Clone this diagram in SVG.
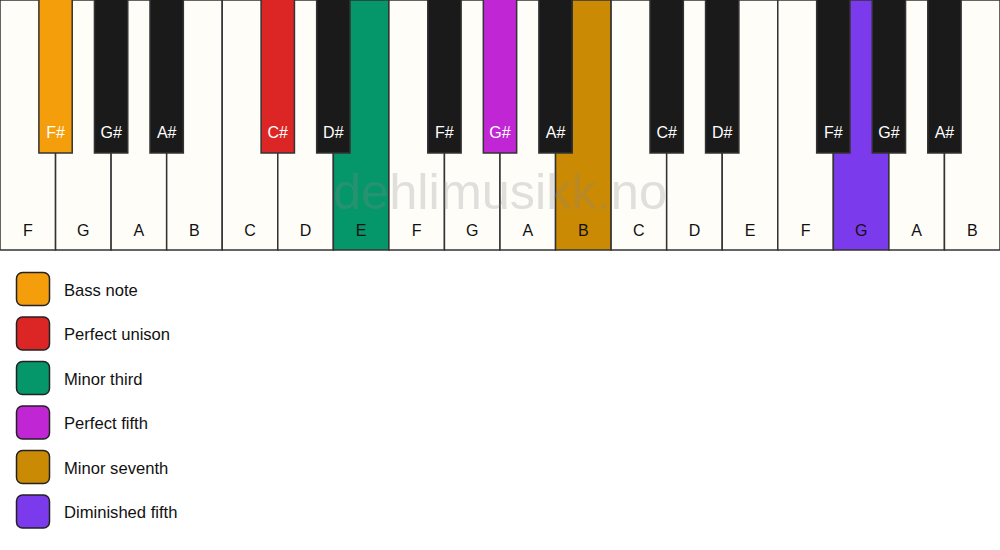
<svg xmlns="http://www.w3.org/2000/svg" width="1000" height="550" viewBox="0 0 1000 550">
<style>
.w{fill:#FFFDF8;stroke:#333;stroke-width:1.5}
.b{fill:#1A1A1A;stroke:#333;stroke-width:1.5}
.wt{font-family:"Liberation Sans",Arial,sans-serif;font-size:16px;fill:#111;text-anchor:middle}
.bt{font-family:"Liberation Sans",Arial,sans-serif;font-size:16px;fill:#fff;text-anchor:middle}
.lg{stroke:#222;stroke-width:1.5}
.lt{font-family:"Liberation Sans",Arial,sans-serif;font-size:16.6px;fill:#111}
</style>
<rect width="1000" height="550" fill="#fff"/>
<g id="white-keys">
<rect class="w" x="0" y="0" width="55.56" height="250"/><text class="wt" x="27.78" y="236">F</text>
<rect class="w" x="55.56" y="0" width="55.56" height="250"/><text class="wt" x="83.33" y="236">G</text>
<rect class="w" x="111.11" y="0" width="55.56" height="250"/><text class="wt" x="138.89" y="236">A</text>
<rect class="w" x="166.67" y="0" width="55.56" height="250"/><text class="wt" x="194.44" y="236">B</text>
<rect class="w" x="222.22" y="0" width="55.56" height="250"/><text class="wt" x="250" y="236">C</text>
<rect class="w" x="277.78" y="0" width="55.56" height="250"/><text class="wt" x="305.56" y="236">D</text>
<rect class="w" x="333.33" y="0" width="55.56" height="250" style="fill:#059669"/><text class="wt" x="361.11" y="236">E</text>
<rect class="w" x="388.89" y="0" width="55.56" height="250"/><text class="wt" x="416.67" y="236">F</text>
<rect class="w" x="444.44" y="0" width="55.56" height="250"/><text class="wt" x="472.22" y="236">G</text>
<rect class="w" x="500" y="0" width="55.56" height="250"/><text class="wt" x="527.78" y="236">A</text>
<rect class="w" x="555.56" y="0" width="55.56" height="250" style="fill:#CA8A04"/><text class="wt" x="583.33" y="236">B</text>
<rect class="w" x="611.11" y="0" width="55.56" height="250"/><text class="wt" x="638.89" y="236">C</text>
<rect class="w" x="666.67" y="0" width="55.56" height="250"/><text class="wt" x="694.44" y="236">D</text>
<rect class="w" x="722.22" y="0" width="55.56" height="250"/><text class="wt" x="750" y="236">E</text>
<rect class="w" x="777.78" y="0" width="55.56" height="250"/><text class="wt" x="805.56" y="236">F</text>
<rect class="w" x="833.33" y="0" width="55.56" height="250" style="fill:#7C3AED"/><text class="wt" x="861.11" y="236">G</text>
<rect class="w" x="888.89" y="0" width="55.56" height="250"/><text class="wt" x="916.67" y="236">A</text>
<rect class="w" x="944.44" y="0" width="55.56" height="250"/><text class="wt" x="972.22" y="236">B</text>
</g>
<g id="black-keys">
<rect class="b" x="38.89" y="-2" width="33.33" height="155" style="fill:#F59E0B"/><text class="bt" x="55.56" y="138">F#</text>
<rect class="b" x="94.44" y="-2" width="33.33" height="155"/><text class="bt" x="111.11" y="138">G#</text>
<rect class="b" x="150" y="-2" width="33.33" height="155"/><text class="bt" x="166.67" y="138">A#</text>
<rect class="b" x="261.11" y="-2" width="33.33" height="155" style="fill:#DC2626"/><text class="bt" x="277.78" y="138">C#</text>
<rect class="b" x="316.67" y="-2" width="33.33" height="155"/><text class="bt" x="333.33" y="138">D#</text>
<rect class="b" x="427.78" y="-2" width="33.33" height="155"/><text class="bt" x="444.44" y="138">F#</text>
<rect class="b" x="483.33" y="-2" width="33.33" height="155" style="fill:#C026D3"/><text class="bt" x="500" y="138">G#</text>
<rect class="b" x="538.89" y="-2" width="33.33" height="155"/><text class="bt" x="555.56" y="138">A#</text>
<rect class="b" x="650" y="-2" width="33.33" height="155"/><text class="bt" x="666.67" y="138">C#</text>
<rect class="b" x="705.56" y="-2" width="33.33" height="155"/><text class="bt" x="722.22" y="138">D#</text>
<rect class="b" x="816.67" y="-2" width="33.33" height="155"/><text class="bt" x="833.33" y="138">F#</text>
<rect class="b" x="872.22" y="-2" width="33.33" height="155"/><text class="bt" x="888.89" y="138">G#</text>
<rect class="b" x="927.78" y="-2" width="33.33" height="155"/><text class="bt" x="944.44" y="138">A#</text>
</g>
<text x="500" y="209" font-family="'Liberation Sans',Arial,sans-serif" font-size="50.5" fill="#888" fill-opacity="0.25" text-anchor="middle">dehlimusikk.no</text>
<g id="legend">
<rect class="lg" x="16.5" y="272.5" width="33" height="33" rx="6" fill="#F59E0B"/><text class="lt" x="64" y="295.5">Bass note</text>
<rect class="lg" x="16.5" y="317" width="33" height="33" rx="6" fill="#DC2626"/><text class="lt" x="64" y="340">Perfect unison</text>
<rect class="lg" x="16.5" y="361.5" width="33" height="33" rx="6" fill="#059669"/><text class="lt" x="64" y="384.5">Minor third</text>
<rect class="lg" x="16.5" y="406" width="33" height="33" rx="6" fill="#C026D3"/><text class="lt" x="64" y="429">Perfect fifth</text>
<rect class="lg" x="16.5" y="450.5" width="33" height="33" rx="6" fill="#CA8A04"/><text class="lt" x="64" y="473.5">Minor seventh</text>
<rect class="lg" x="16.5" y="495" width="33" height="33" rx="6" fill="#7C3AED"/><text class="lt" x="64" y="518">Diminished fifth</text>
</g>
</svg>
